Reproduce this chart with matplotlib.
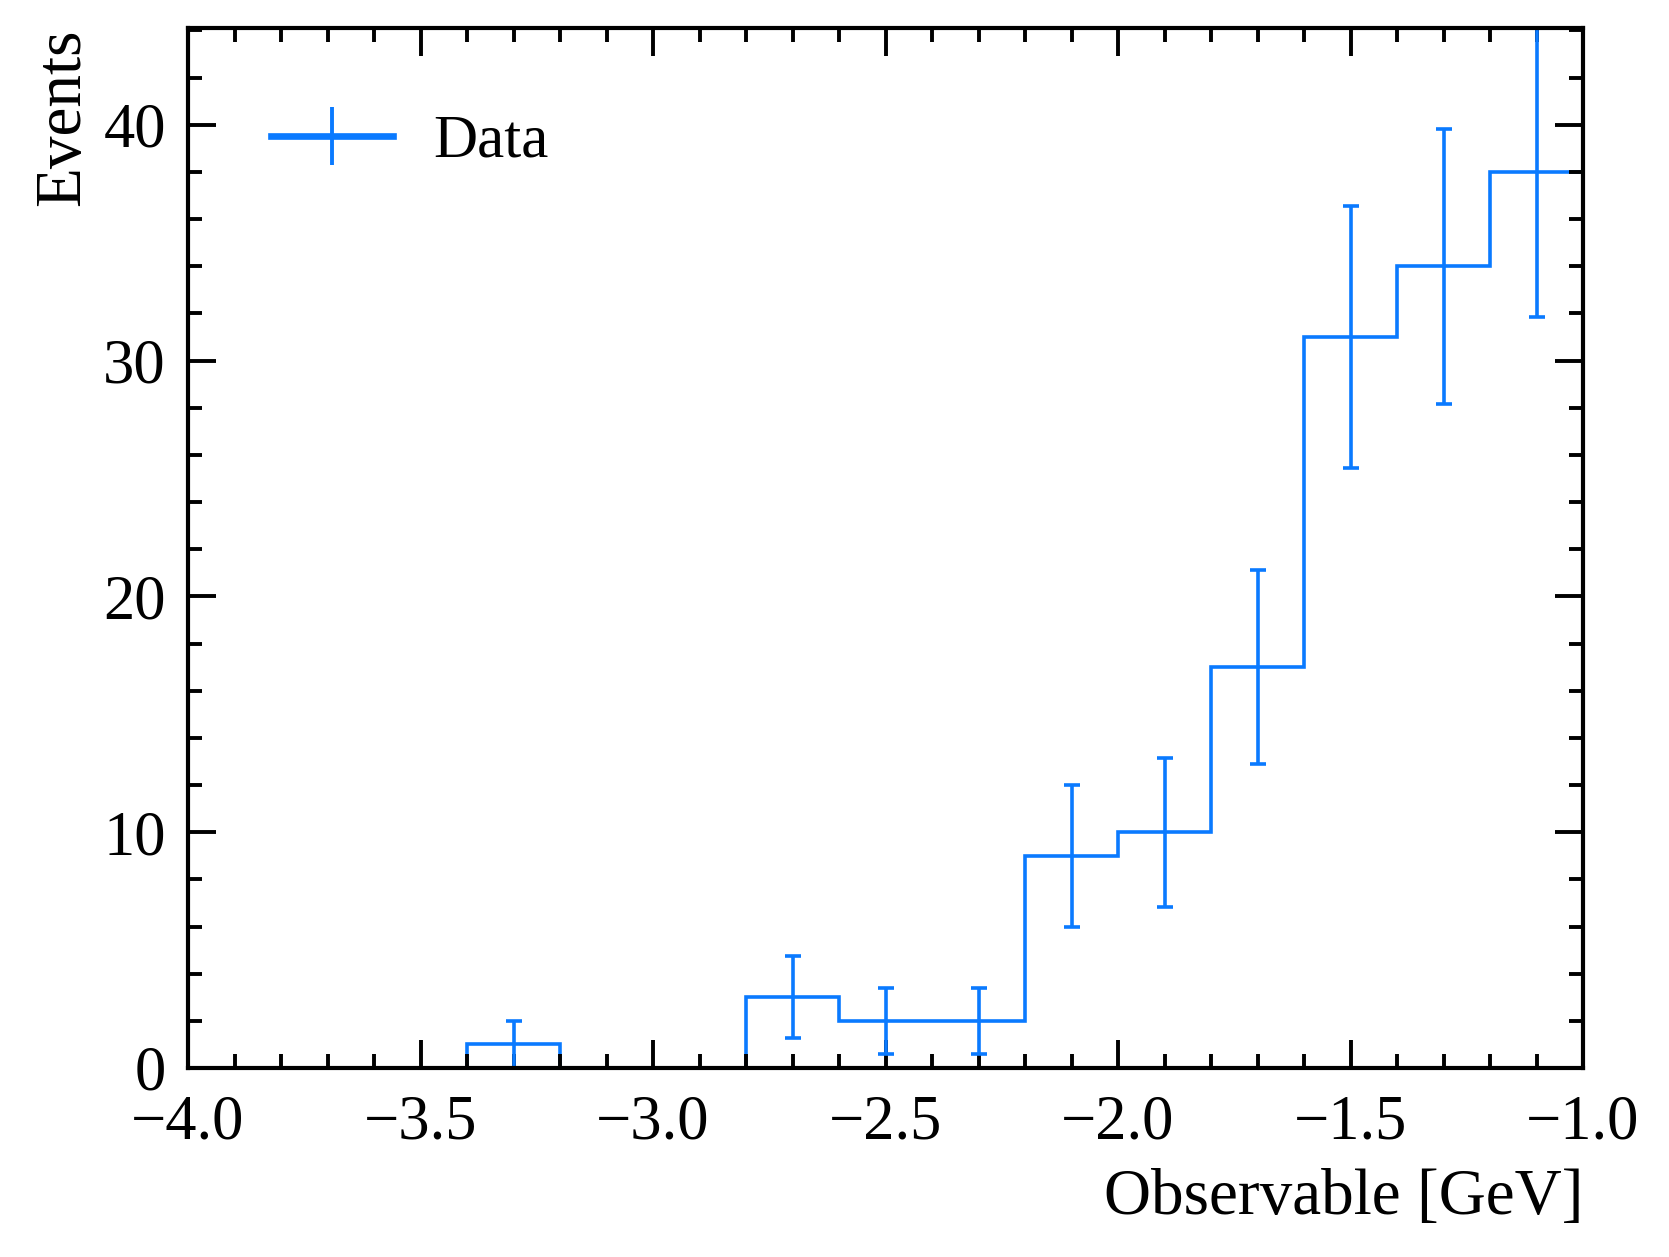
import numpy as np
import matplotlib
matplotlib.use("Agg")
import matplotlib.pyplot as plt
from matplotlib.lines import Line2D
from matplotlib.ticker import MultipleLocator

# histogram
bin_edges = [-4.0, -3.8, -3.6, -3.4, -3.2, -3.0, -2.8, -2.6, -2.4,
             -2.2, -2.0, -1.8, -1.6, -1.4, -1.2, -1.0]
counts = [0, 0, 0, 1, 0, 0, 3, 2, 2, 9, 10, 17, 31, 34, 38]
errors = [0, 0, 0, 1.0, 0, 0, 1.73, 1.41, 1.41, 3.0, 3.16, 4.12, 5.57, 5.83, 6.16]

COLOR = "#0a7aff"

plt.rcParams.update({
    "font.family": ["Liberation Serif", "DejaVu Serif"],
    "font.size": 22,
    "axes.linewidth": 1.5,
    "xtick.direction": "in",
    "ytick.direction": "in",
    "xtick.top": True,
    "ytick.right": True,
    "xtick.major.size": 10,
    "xtick.minor.size": 5,
    "ytick.major.size": 10,
    "ytick.minor.size": 5,
    "xtick.major.width": 1.4,
    "xtick.minor.width": 1.4,
    "ytick.major.width": 1.4,
    "ytick.minor.width": 1.4,
    "xtick.major.pad": 9.5,
    "ytick.major.pad": 8,
    "axes.unicode_minus": True,
})

fig = plt.figure(figsize=(8.345, 6.285), dpi=200)
ax = fig.add_axes([188 / 1669, 1 - 1068 / 1257, (1583 - 188) / 1669, (1068 - 28) / 1257])

edges = np.array(bin_edges)
vals = np.array(counts, dtype=float)
errs = np.array(errors)
centers = 0.5 * (edges[:-1] + edges[1:])

ax.stairs(vals, edges, color=COLOR, linewidth=1.3, baseline=0)
nz = vals > 0
ax.errorbar(centers[nz], vals[nz], yerr=errs[nz], fmt="none", ecolor=COLOR,
            elinewidth=1.3, capsize=3, capthick=1.3)

ax.set_xlim(-4.0, -1.0)
ax.set_ylim(0, 44.1)
ax.xaxis.set_major_locator(MultipleLocator(0.5))
ax.xaxis.set_minor_locator(MultipleLocator(0.1))
ax.yaxis.set_major_locator(MultipleLocator(10))
ax.yaxis.set_minor_locator(MultipleLocator(2))
ax.tick_params(which="both", labelsize=22.5)

ax.set_xlabel("Observable [GeV]", fontsize=23.5, loc="right")
ax.set_ylabel("Events", fontsize=23.5, loc="top")
ax.yaxis.set_label_coords(-0.068, 1.0)
ax.xaxis.set_label_coords(1.0, -0.097)

handle = Line2D([], [], color=COLOR, linewidth=2.4, marker="|",
                markersize=21, markeredgewidth=1.4)
ax.legend([handle], ["Data"], loc="upper left", frameon=False, fontsize=22,
          handlelength=2.0, handletextpad=0.65,
          bbox_to_anchor=(0.02, 0.97))

fig.savefig("out.png", dpi=200)
